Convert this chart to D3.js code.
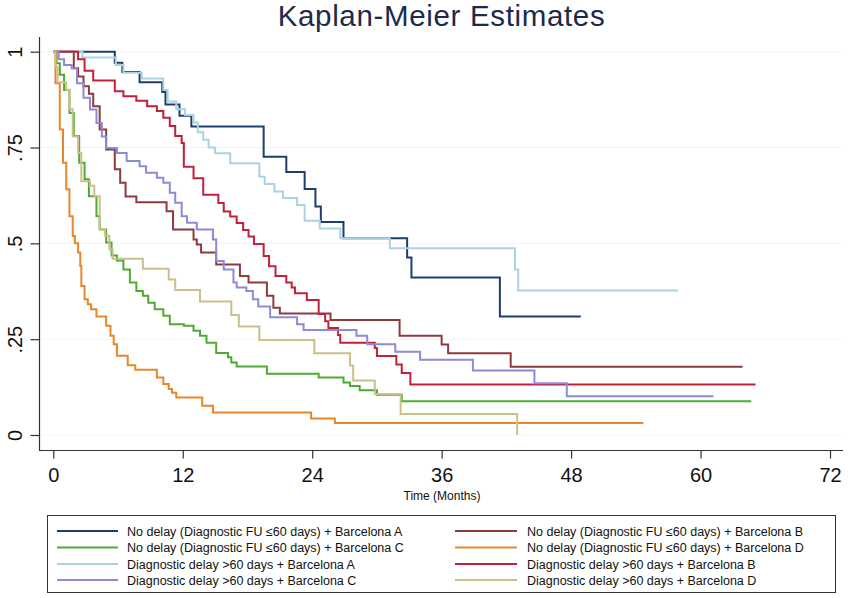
<!DOCTYPE html>
<html>
<head>
<meta charset="utf-8">
<script src="https://cdn.jsdelivr.net/npm/d3@7"></script>
<style>
  body { margin: 0; background: #fff; }
  svg { display: block; font-family: "Liberation Sans", Arial, Helvetica, sans-serif; }
</style>
</head>
<body>
<svg id="chart" width="849" height="598"></svg>
<script>
// ---------- DATA (time in months, survival after the step) ----------
const noDelayA = [[0,1],[5.7,0.971],[6.4,0.947],[8.0,0.920],[10.1,0.895],[10.4,0.862],[11.7,0.833],[12.8,0.805],[19.5,0.726],[21.6,0.686],[23.3,0.642],[24.3,0.596],[24.8,0.556],[26.9,0.513],[32.8,0.463],[33.2,0.411],[41.4,0.309],[48.9,0.309]];
const noDelayB = [[0,1],[1.9,0.957],[2.3,0.935],[2.8,0.91],[3.3,0.89],[3.7,0.858],[4.3,0.797],[4.9,0.745],[5.7,0.693],[6.2,0.658],[6.7,0.622],[7.7,0.607],[10.5,0.584],[11.1,0.536],[13.0,0.51],[13.3,0.497],[13.7,0.476],[15.1,0.445],[17.3,0.415],[18.1,0.398],[19.8,0.363],[20.4,0.332],[21.0,0.317],[25.7,0.300],[32.1,0.259],[36.0,0.236],[36.6,0.213],[42.4,0.178],[63.9,0.178]];
const noDelayC = [[0,1],[0.3,0.97],[0.6,0.94],[1.0,0.90],[1.5,0.84],[1.9,0.78],[2.4,0.71],[2.9,0.667],[3.3,0.623],[4.0,0.571],[4.3,0.536],[4.9,0.502],[5.4,0.468],[5.9,0.455],[6.5,0.432],[7.1,0.398],[7.7,0.376],[8.3,0.363],[8.8,0.345],[9.4,0.328],[10.2,0.311],[10.8,0.289],[12.1,0.285],[13.0,0.272],[13.6,0.259],[14.2,0.241],[15.1,0.214],[16.2,0.203],[16.5,0.189],[17.0,0.179],[19.8,0.16],[24.6,0.15],[26.9,0.137],[27.5,0.128],[28.4,0.117],[30.0,0.105],[32.3,0.088],[64.7,0.088]];
const noDelayD = [[0,1],[0.2,0.918],[0.6,0.797],[0.9,0.71],[1.2,0.641],[1.5,0.571],[1.8,0.519],[2.0,0.50],[2.3,0.476],[2.5,0.441],[2.6,0.389],[2.9,0.354],[3.2,0.341],[3.5,0.328],[4.0,0.309],[4.9,0.285],[5.3,0.259],[5.6,0.237],[5.9,0.207],[6.9,0.182],[7.6,0.17],[9.6,0.15],[10.2,0.133],[10.7,0.12],[11.0,0.11],[11.4,0.098],[13.8,0.076],[14.8,0.059],[23.9,0.043],[26.1,0.031],[54.7,0.031]];
const delayA = [[0,1],[2.7,0.985],[5.8,0.965],[6.5,0.945],[8.2,0.93],[10.2,0.90],[10.6,0.87],[11.4,0.85],[12.2,0.835],[13.0,0.815],[13.4,0.79],[13.9,0.77],[14.4,0.75],[15.0,0.735],[16.4,0.709],[19.1,0.674],[19.6,0.655],[20.5,0.635],[21.3,0.618],[22.6,0.600],[23.3,0.559],[24.7,0.539],[26.6,0.513],[31.2,0.487],[42.8,0.432],[43.1,0.377],[57.9,0.377]];
const delayB = [[0,1],[2.3,0.98],[2.9,0.95],[3.7,0.925],[5.7,0.897],[6.5,0.884],[7.7,0.872],[8.7,0.858],[9.6,0.845],[10.2,0.828],[10.8,0.806],[11.3,0.78],[11.9,0.762],[12.1,0.70],[13.0,0.67],[13.9,0.627],[15.3,0.605],[15.8,0.583],[16.4,0.57],[17.0,0.553],[17.6,0.535],[18.1,0.518],[18.6,0.498],[19.5,0.467],[20.0,0.44],[20.6,0.415],[21.6,0.398],[22.1,0.385],[22.4,0.37],[23.5,0.352],[24.6,0.316],[25.2,0.297],[25.5,0.279],[26.4,0.261],[26.6,0.241],[29.8,0.227],[30.0,0.206],[31.8,0.184],[32.3,0.162],[33.1,0.132],[65.1,0.132]];
const delayC = [[0,1],[0.5,0.98],[1.0,0.965],[1.7,0.957],[2.2,0.918],[2.8,0.88],[3.4,0.849],[4.0,0.814],[4.5,0.779],[4.9,0.749],[5.9,0.736],[6.8,0.715],[8.0,0.701],[8.6,0.684],[9.6,0.671],[10.2,0.658],[10.8,0.632],[11.3,0.606],[11.9,0.571],[12.4,0.554],[13.3,0.536],[14.8,0.51],[15.1,0.454],[15.8,0.432],[16.7,0.398],[17.0,0.385],[17.9,0.376],[18.5,0.354],[19.0,0.335],[20.1,0.307],[22.6,0.289],[23.2,0.274],[28.1,0.259],[29.1,0.237],[31.7,0.217],[34.0,0.196],[38.9,0.168],[44.6,0.135],[47.6,0.101],[61.2,0.101]];
const delayD = [[0,1],[0.2,0.96],[0.4,0.92],[1.2,0.901],[1.5,0.85],[1.8,0.779],[2.3,0.736],[2.6,0.662],[3.4,0.65],[3.8,0.623],[4.3,0.536],[4.8,0.52],[5.2,0.484],[5.5,0.46],[8.3,0.434],[10.7,0.406],[11.3,0.378],[13.6,0.348],[16.5,0.313],[17.2,0.283],[19.1,0.248],[24.2,0.213],[27.5,0.181],[27.8,0.142],[29.8,0.107],[32.2,0.055],[43.0,0.0]];

const seriesLabels = [
  "No delay (Diagnostic FU \u226460 days) + Barcelona A",
  "No delay (Diagnostic FU \u226460 days) + Barcelona B",
  "No delay (Diagnostic FU \u226460 days) + Barcelona C",
  "No delay (Diagnostic FU \u226460 days) + Barcelona D",
  "Diagnostic delay >60 days + Barcelona A",
  "Diagnostic delay >60 days + Barcelona B",
  "Diagnostic delay >60 days + Barcelona C",
  "Diagnostic delay >60 days + Barcelona D"
];
const seriesColors = ["#1b3f6c","#8e3a3e","#4faa32","#e8872a","#a9d3e3","#c1213a","#8b8bd8","#cbbf8b"];
const xTicks = [0,12,24,36,48,60,72];
const yTicks = [0,0.25,0.5,0.75,1];
const yTickLabels = ["0",".25",".5",".75","1"];

const allSeries = [noDelayA, noDelayB, noDelayC, noDelayD, delayA, delayB, delayC, delayD];

// ---------- CHART ----------
const svg = d3.select("#chart");
const font = '"Liberation Sans", Arial, Helvetica, sans-serif';

const x = d3.scaleLinear().domain([0,72]).range([53.3, 830]);
const y = d3.scaleLinear().domain([0,1]).range([435, 51.7]);

// title
const title = svg.append("text")
  .attr("x", 441.5).attr("y", 25.5)
  .attr("text-anchor", "middle")
  .attr("fill", "#1c2a4e")
  .style("font-size", "29.5px")
  .text("Kaplan-Meier Estimates");
{
  const w = title.node().getComputedTextLength();
  const target = 327;
  const n = "Kaplan-Meier Estimates".length;
  title.style("letter-spacing", ((target - w) / (n - 1)) + "px");
}

// faint gridlines
svg.append("g").selectAll("line").data(yTicks).join("line")
  .attr("x1", 40).attr("x2", 843)
  .attr("y1", d => y(d)).attr("y2", d => y(d))
  .attr("stroke", "#f4f4f4").attr("stroke-width", 1);

// axes frame lines
svg.append("line").attr("x1", 39.5).attr("x2", 39.5).attr("y1", 37).attr("y2", 450.5)
  .attr("stroke", "#333").attr("stroke-width", 1.2);
svg.append("line").attr("x1", 39).attr("x2", 843).attr("y1", 450.5).attr("y2", 450.5)
  .attr("stroke", "#333").attr("stroke-width", 1.2);

// y axis
const yAxis = svg.append("g").attr("transform", "translate(39.5,0)")
  .call(d3.axisLeft(y).tickValues(yTicks).tickFormat((d,i) => yTickLabels[i]).tickSize(9).tickPadding(0));
yAxis.select(".domain").remove();
yAxis.selectAll(".tick line").attr("stroke", "#333").attr("stroke-width", 1.2);
yAxis.selectAll(".tick text")
  .attr("x", 0).attr("dy", "0.36em")
  .attr("transform", "translate(-24.5,0) rotate(-90)")
  .attr("text-anchor", "middle")
  .attr("fill", "#111")
  .style("font-size", "20px").style("font-family", font);

// x axis
const xAxis = svg.append("g").attr("transform", "translate(0,450.5)")
  .call(d3.axisBottom(x).tickValues(xTicks).tickSize(8).tickPadding(9));
xAxis.select(".domain").remove();
xAxis.selectAll(".tick line").attr("stroke", "#333").attr("stroke-width", 1.2);
xAxis.selectAll(".tick text").attr("fill", "#111")
  .style("font-size", "20px").style("font-family", font);

svg.append("text").attr("x", 442).attr("y", 500)
  .attr("text-anchor", "middle").attr("fill", "#111")
  .style("font-size", "12px").text("Time (Months)");

// curves
const line = d3.line().x(d => x(d[0])).y(d => y(d[1])).curve(d3.curveStepAfter);
svg.append("g").selectAll("path").data(allSeries).join("path")
  .attr("d", d => line(d))
  .attr("fill", "none")
  .attr("stroke", (d,i) => seriesColors[i])
  .attr("stroke-width", 2)
  .attr("stroke-linejoin", "miter");

// legend
const lg = svg.append("g");
lg.append("rect").attr("x", 47.5).attr("y", 515.5).attr("width", 788).attr("height", 77)
  .attr("fill", "#fff").attr("stroke", "#333").attr("stroke-width", 1);
const rowY = [531, 547.5, 564, 580];
const items = seriesLabels.map((t,i) => ({t, c: seriesColors[i], col: i % 2, row: Math.floor(i / 2)}));
const colLineX = [[57,118],[455,517]];
const colTextX = [127, 527];
const li = lg.selectAll("g.item").data(items).join("g").attr("class","item");
li.append("line")
  .attr("x1", d => colLineX[d.col][0]).attr("x2", d => colLineX[d.col][1])
  .attr("y1", d => rowY[d.row]).attr("y2", d => rowY[d.row])
  .attr("stroke", d => d.c).attr("stroke-width", 2);
li.append("text")
  .attr("x", d => colTextX[d.col]).attr("y", d => rowY[d.row] + 4.5)
  .attr("fill", "#111").style("font-size", "12.5px")
  .text(d => d.t);
</script>
</body>
</html>
